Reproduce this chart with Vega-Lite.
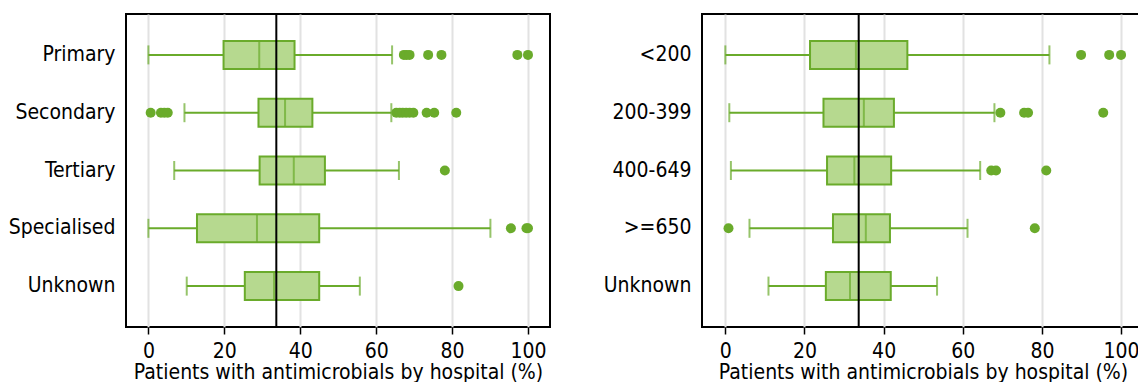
{
  "$schema": "https://vega.github.io/schema/vega-lite/v6.json",
  "padding": {"left": 5, "top": 12, "right": 0, "bottom": 0},
  "spacing": 30,
  "config": {
    "font": "DejaVu Sans Condensed",
    "view": {"stroke": "#000000", "strokeWidth": 2},
    "axisX": {
      "grid": true, "gridColor": "#e2e2e2", "gridWidth": 2,
      "domain": false, "tickColor": "#000000", "tickSize": 7, "tickWidth": 1.5,
      "labelFontSize": 21, "labelColor": "#000000", "labelPadding": 6, "labelFlush": false,
      "titleFontSize": 21, "titleFontWeight": "normal", "titleColor": "#000000", "titlePadding": 0
    },
    "axisY": {
      "grid": false, "domain": false, "ticks": false,
      "labelFontSize": 21, "labelColor": "#000000", "labelPadding": 11,
      "minExtent": 120, "maxExtent": 120, "title": null
    }
  },
  "datasets": {
    "typeBoxes": [
      {"group": "Primary", "lower": 0, "q1": 19.8, "median": 29.2, "q3": 38.5, "upper": 64.2},
      {"group": "Secondary", "lower": 9.5, "q1": 29.0, "median": 36.0, "q3": 43.2, "upper": 64.0},
      {"group": "Tertiary", "lower": 6.8, "q1": 29.3, "median": 38.3, "q3": 46.5, "upper": 66.0},
      {"group": "Specialised", "lower": 0, "q1": 12.8, "median": 28.6, "q3": 45.0, "upper": 90.1},
      {"group": "Unknown", "lower": 10.1, "q1": 25.4, "median": 33.1, "q3": 45.0, "upper": 55.7}
    ],
    "typeOutliers": [
      {"group": "Primary", "value": 67.3}, {"group": "Primary", "value": 68.0}, {"group": "Primary", "value": 68.8},
      {"group": "Primary", "value": 73.7}, {"group": "Primary", "value": 77.2}, {"group": "Primary", "value": 97.2},
      {"group": "Primary", "value": 100},
      {"group": "Secondary", "value": 0.6}, {"group": "Secondary", "value": 3.3}, {"group": "Secondary", "value": 4.2},
      {"group": "Secondary", "value": 5.1}, {"group": "Secondary", "value": 65.3}, {"group": "Secondary", "value": 66.2},
      {"group": "Secondary", "value": 67.0}, {"group": "Secondary", "value": 67.9}, {"group": "Secondary", "value": 68.8},
      {"group": "Secondary", "value": 69.8}, {"group": "Secondary", "value": 73.3}, {"group": "Secondary", "value": 75.3},
      {"group": "Secondary", "value": 81.1},
      {"group": "Tertiary", "value": 78.1},
      {"group": "Specialised", "value": 95.5}, {"group": "Specialised", "value": 99.6}, {"group": "Specialised", "value": 100},
      {"group": "Unknown", "value": 81.7}
    ],
    "sizeBoxes": [
      {"group": "<200", "lower": 0, "q1": 21.4, "median": 33.0, "q3": 46.0, "upper": 81.9},
      {"group": "200-399", "lower": 1.0, "q1": 24.8, "median": 35.0, "q3": 42.6, "upper": 68.0},
      {"group": "400-649", "lower": 1.4, "q1": 25.7, "median": 32.6, "q3": 41.9, "upper": 64.4},
      {"group": ">=650", "lower": 6.1, "q1": 27.2, "median": 35.5, "q3": 41.6, "upper": 61.2},
      {"group": "Unknown", "lower": 10.9, "q1": 25.4, "median": 31.5, "q3": 41.8, "upper": 53.5}
    ],
    "sizeOutliers": [
      {"group": "<200", "value": 89.9}, {"group": "<200", "value": 97.0}, {"group": "<200", "value": 100},
      {"group": "200-399", "value": 69.5}, {"group": "200-399", "value": 75.5}, {"group": "200-399", "value": 76.5},
      {"group": "200-399", "value": 95.5},
      {"group": "400-649", "value": 67.2}, {"group": "400-649", "value": 68.4}, {"group": "400-649", "value": 81.1},
      {"group": ">=650", "value": 0.8}, {"group": ">=650", "value": 78.2}
    ],
    "reference": [{"overall": 33.7}]
  },
  "hconcat": [
    {
      "width": 424,
      "height": 313,
      "layer": [
        {
          "data": {"name": "typeBoxes"},
          "mark": {"type": "rule", "color": "#6aab2b", "strokeWidth": 2},
          "encoding": {
            "y": {"field": "group", "type": "nominal", "scale": {"domain": ["Primary", "Secondary", "Tertiary", "Specialised", "Unknown"], "paddingInner": 0, "paddingOuter": 0.2075}},
            "x": {"field": "lower", "type": "quantitative", "scale": {"domain": [-5.9, 105.8], "nice": false, "zero": false},
                  "axis": {"values": [0, 20, 40, 60, 80, 100], "title": "Patients with antimicrobials by hospital (%)"}},
            "x2": {"field": "upper"}
          }
        },
        {
          "data": {"name": "typeBoxes"},
          "mark": {"type": "tick", "color": "#6aab2b", "size": 19, "thickness": 2, "orient": "vertical"},
          "encoding": {
            "y": {"field": "group", "type": "nominal"},
            "x": {"field": "lower", "type": "quantitative"}
          }
        },
        {
          "data": {"name": "typeBoxes"},
          "mark": {"type": "tick", "color": "#6aab2b", "size": 19, "thickness": 2, "orient": "vertical"},
          "encoding": {
            "y": {"field": "group", "type": "nominal"},
            "x": {"field": "upper", "type": "quantitative"}
          }
        },
        {
          "data": {"name": "typeBoxes"},
          "mark": {"type": "bar", "size": 28, "fill": "#b6d98f", "stroke": "#6aab2b", "strokeWidth": 2},
          "encoding": {
            "y": {"field": "group", "type": "nominal"},
            "x": {"field": "q1", "type": "quantitative"},
            "x2": {"field": "q3"}
          }
        },
        {
          "data": {"name": "typeBoxes"},
          "mark": {"type": "tick", "color": "#6aab2b", "size": 28, "thickness": 2, "orient": "vertical"},
          "encoding": {
            "y": {"field": "group", "type": "nominal"},
            "x": {"field": "median", "type": "quantitative"}
          }
        },
        {
          "data": {"name": "typeOutliers"},
          "mark": {"type": "point", "filled": true, "opacity": 1, "color": "#6aab2b", "size": 100},
          "encoding": {
            "y": {"field": "group", "type": "nominal"},
            "x": {"field": "value", "type": "quantitative"}
          }
        },
        {
          "data": {"name": "reference"},
          "mark": {"type": "rule", "color": "#000000", "strokeWidth": 2},
          "encoding": {
            "x": {"field": "overall", "type": "quantitative"}
          }
        }
      ]
    },
    {
      "width": 442,
      "height": 313,
      "layer": [
        {
          "data": {"name": "sizeBoxes"},
          "mark": {"type": "rule", "color": "#6aab2b", "strokeWidth": 2},
          "encoding": {
            "y": {"field": "group", "type": "nominal", "scale": {"domain": ["<200", "200-399", "400-649", ">=650", "Unknown"], "paddingInner": 0, "paddingOuter": 0.2075}},
            "x": {"field": "lower", "type": "quantitative", "scale": {"domain": [-5.9, 105.8], "nice": false, "zero": false},
                  "axis": {"values": [0, 20, 40, 60, 80, 100], "title": "Patients with antimicrobials by hospital (%)"}},
            "x2": {"field": "upper"}
          }
        },
        {
          "data": {"name": "sizeBoxes"},
          "mark": {"type": "tick", "color": "#6aab2b", "size": 19, "thickness": 2, "orient": "vertical"},
          "encoding": {
            "y": {"field": "group", "type": "nominal"},
            "x": {"field": "lower", "type": "quantitative"}
          }
        },
        {
          "data": {"name": "sizeBoxes"},
          "mark": {"type": "tick", "color": "#6aab2b", "size": 19, "thickness": 2, "orient": "vertical"},
          "encoding": {
            "y": {"field": "group", "type": "nominal"},
            "x": {"field": "upper", "type": "quantitative"}
          }
        },
        {
          "data": {"name": "sizeBoxes"},
          "mark": {"type": "bar", "size": 28, "fill": "#b6d98f", "stroke": "#6aab2b", "strokeWidth": 2},
          "encoding": {
            "y": {"field": "group", "type": "nominal"},
            "x": {"field": "q1", "type": "quantitative"},
            "x2": {"field": "q3"}
          }
        },
        {
          "data": {"name": "sizeBoxes"},
          "mark": {"type": "tick", "color": "#6aab2b", "size": 28, "thickness": 2, "orient": "vertical"},
          "encoding": {
            "y": {"field": "group", "type": "nominal"},
            "x": {"field": "median", "type": "quantitative"}
          }
        },
        {
          "data": {"name": "sizeOutliers"},
          "mark": {"type": "point", "filled": true, "opacity": 1, "color": "#6aab2b", "size": 100},
          "encoding": {
            "y": {"field": "group", "type": "nominal"},
            "x": {"field": "value", "type": "quantitative"}
          }
        },
        {
          "data": {"name": "reference"},
          "mark": {"type": "rule", "color": "#000000", "strokeWidth": 2},
          "encoding": {
            "x": {"field": "overall", "type": "quantitative"}
          }
        }
      ]
    }
  ]
}
